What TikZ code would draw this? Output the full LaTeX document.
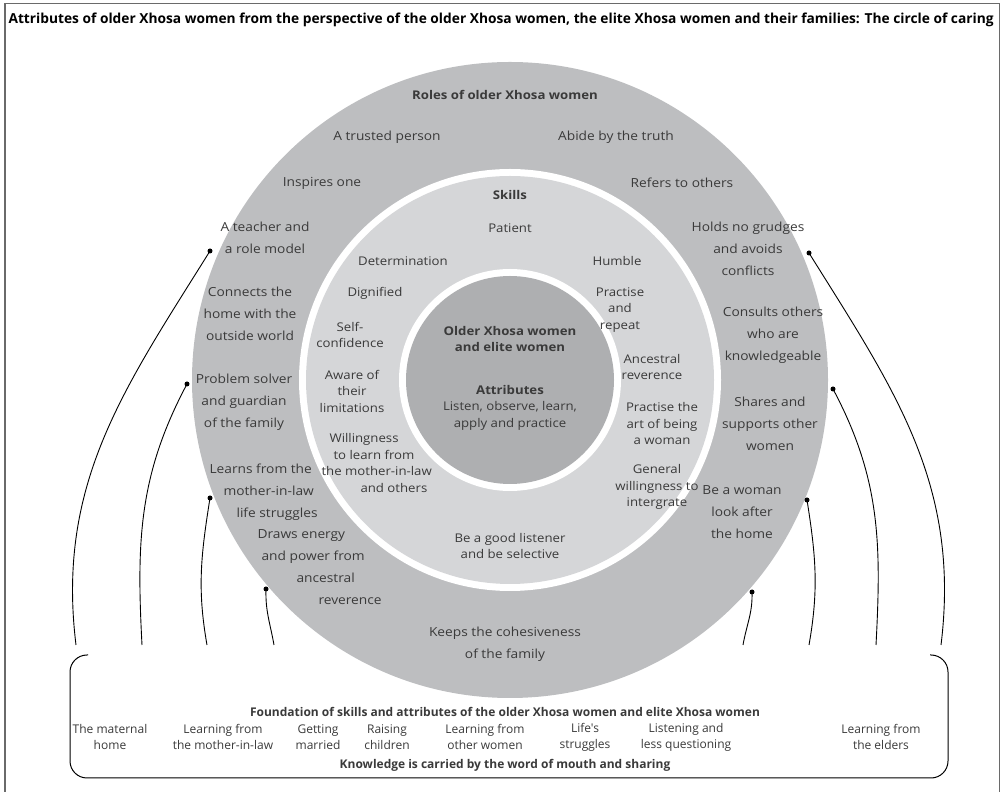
\documentclass[tikz,border=0pt]{standalone}
\usepackage{fontspec}
\setmainfont{Open Sans}[FakeStretch=1.1]
\newfontfamily\boxfont{Open Sans}
\usepackage{xcolor}
\definecolor{ringgray}{HTML}{BDBEC0}
\definecolor{skillgray}{HTML}{D5D6D8}
\definecolor{coregray}{HTML}{AEAFB1}
\definecolor{txtgray}{HTML}{3A3A3A}
\definecolor{framegray}{HTML}{6A6A6A}

\begin{document}
\begin{tikzpicture}[x=1pt,y=1pt,
    ring/.style={font=\fontsize{12.5}{22}\selectfont,text=txtgray,align=center},
    skill/.style={font=\fontsize{12}{16.5}\selectfont,text=txtgray,align=center},
    head/.style={font=\fontsize{12}{16.5}\selectfont\bfseries,text=txtgray,align=center},
    item/.style={font=\boxfont\fontsize{12}{16}\selectfont,text=txtgray,align=center},
    dot/.style={circle,fill=black,inner sep=0pt,minimum size=5pt}]
  \useasboundingbox (0,0) rectangle (1001,792);
  % frame and title
  \draw[framegray,line width=1.2pt] (5,-5) -- (5,788.5) -- (999.5,788.5) -- (999.5,-5);
  \node[anchor=west,font=\boxfont\bfseries\fontsize{13.75}{15}\selectfont] (title) at (5,772)
    {Attributes of older Xhosa women from the perspective of the older Xhosa women, the elite Xhosa women and their families: The circle of caring};
  % the three circles
  \coordinate (c) at (510,412);
  \fill[ringgray] (c) circle[radius=318pt];
  \fill[white] (c) circle[radius=211pt];
  \fill[skillgray] (c) circle[radius=204pt];
  \fill[white] (c) circle[radius=111pt];
  \fill[coregray] (c) circle[radius=104pt];
  % roles
  \node[head] (roles) at (505,697) {Roles of older Xhosa women};
  \node[ring] (trusted) at (387,655) {A trusted person};
  \node[ring] (abide) at (616,655) {Abide by the truth};
  \node[ring] (inspires) at (322,609) {Inspires one};
  \node[ring] (refers) at (682,609) {Refers to others};
  \node[ring] (teacher) at (265,554) {A teacher and\\a role model};
  \node[ring] (grudges) at (748,543) {Holds no grudges\\and avoids\\conflicts};
  \node[ring] (connects) at (250,478) {Connects the\\home with the\\outside world};
  \node[ring] (consults) at (773,457) {Consults others\\who are\\knowledgeable};
  \node[ring] (solver) at (244,390) {Problem solver\\and guardian\\of the family};
  \node[ring] (shares) at (770,368) {Shares and\\supports other\\women};
  \node[ring,align=left,anchor=north west] (learns) at (206,332)
    {Learns from the\\\hspace*{14pt}mother-in-law\\\hspace*{27pt}life struggles};
  \node[ring] (woman) at (742,280) {Be a woman\\look after\\the home};
  \node[ring,align=left,anchor=north west] (draws) at (254,266)
    {Draws energy\\\hspace*{4pt}and power from\\\hspace*{39pt}ancestral\\\hspace*{61pt}reverence};
  \node[ring] (keeps) at (505,148) {Keeps the cohesiveness\\of the family};
  % skills
  \node[head] (skills) at (510,597) {Skills};
  \node[skill] (patient) at (510,564) {Patient};
  \node[skill] (determ) at (403,531) {Determination};
  \node[skill] (humble) at (617,531) {Humble};
  \node[skill] (dignified) at (375,499) {Dignified};
  \node[skill] (practise) at (620,482) {Practise\\and\\repeat};
  \node[skill] (selfconf) at (350,457) {Self-\\confidence};
  \node[skill] (ancestral) at (652,425) {Ancestral\\reverence};
  \node[skill] (aware) at (352,401) {Aware of\\their\\limitations};
  \node[skill] (artwoman) at (662,368) {Practise the\\art of being\\a woman};
  \node[skill,align=left,anchor=north west] (willing) at (318,362)
    {\hspace*{8pt}Willingness\\\hspace*{12pt}to learn from\\the mother-in-law\\\hspace*{39pt}and others};
  \node[skill] (general) at (657,305) {General\\willingness to\\intergrate};
  \node[skill] (listener) at (510,246) {Be a good listener\\and be selective};
  % core
  \node[head] (older) at (510,453) {Older Xhosa women\\and elite women};
  \node[head] (attributes) at (510,402) {Attributes};
  \node[skill] (listen) at (510,376) {Listen, observe, learn,\\apply and practice};
  % foundation box
  \draw[line width=1pt,rounded corners=17pt] (88,137) -- (70,137) -- (70,14) -- (948,14) -- (948,137) -- (930,137);
  \node[item,font=\boxfont\bfseries\fontsize{12}{16}\selectfont] (found) at (505,80)
    {Foundation of skills and attributes of the older Xhosa women and elite Xhosa women};
  \foreach \n/\x/\t in {f1/110/The maternal\\home, f2/223/Learning from\\the mother-in-law,
      f3/318/Getting\\married, f4/387/Raising\\children, f5/485/Learning from\\other women,
      f6/585/Life's\\struggles, f7/686/Listening and\\less questioning, f8/881/Learning from\\the elders}
    \node[item] (\n) at (\x,55) {\t};
  \node[item,font=\boxfont\bfseries\fontsize{12}{16}\selectfont] (knowledge) at (505,27)
    {Knowledge is carried by the word of mouth and sharing};
  % connectors from the ring down to the foundation
  \foreach \n/\x/\y in {lc1/210/541, lc2/187/408, lc3/210/294, lc4/266/203,
      rc1/809/539, rc2/833/403, rc3/807/292, rc4/752/200}
    \node[dot] (\n) at (\x,\y) {};
  \foreach \n/\x in {le1/76, le2/142, le3/207, le4/274, re1/941, re2/876, re3/809, re4/743}
    \coordinate (\n) at (\x,147);
  \foreach \d/\e/\o/\i in {lc1/le1/238/97, lc2/le2/242/93, lc3/le3/261/100, lc4/le4/268/100,
      rc1/re1/302/83, rc2/re2/298/87, rc3/re3/279/80, rc4/re4/272/80}
    \draw[line width=0.9pt] (\d.center) to[out=\o,in=\i] (\e);
\end{tikzpicture}
\end{document}
